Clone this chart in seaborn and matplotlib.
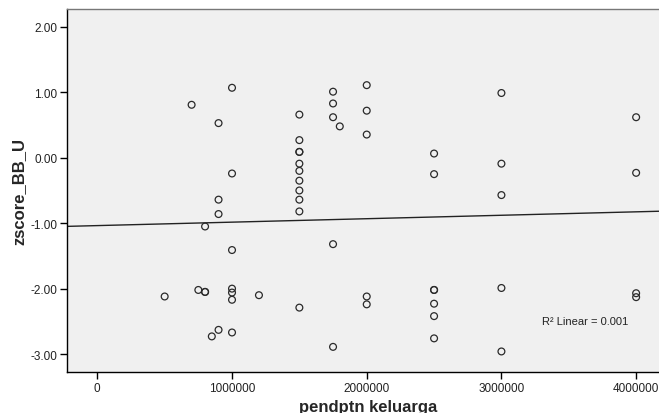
import matplotlib
matplotlib.use("Agg")
import matplotlib.pyplot as plt
import seaborn as sns
import numpy as np
import pandas as pd

income = [1000000, 700000, 900000, 1500000, 1750000, 1750000, 1750000, 1800000,
          2000000, 2000000, 2000000, 1500000, 1500000, 1500000, 1500000, 1500000,
          1500000, 1500000, 1500000, 1500000, 1000000, 900000, 900000, 800000,
          1000000, 1750000, 500000, 750000, 800000, 800000, 1000000, 1000000,
          1000000, 1200000, 1500000, 2000000, 2000000, 900000, 850000, 1000000,
          1750000, 2500000, 2500000, 3000000, 3000000, 3000000, 4000000, 4000000,
          2500000, 2500000, 2500000, 2500000, 2500000, 3000000, 3000000, 4000000,
          4000000]
zscore = [1.07, 0.81, 0.53, 0.66, 1.01, 0.83, 0.62, 0.48,
          1.11, 0.72, 0.355, 0.27, 0.09, 0.09, -0.09, -0.20,
          -0.35, -0.50, -0.64, -0.82, -0.24, -0.64, -0.86, -1.05,
          -1.41, -1.32, -2.12, -2.02, -2.05, -2.05, -2.00, -2.06,
          -2.17, -2.10, -2.29, -2.12, -2.24, -2.63, -2.73, -2.67,
          -2.89, 0.065, -0.25, 0.99, -0.09, -0.57, 0.62, -0.23,
          -2.02, -2.02, -2.23, -2.42, -2.76, -1.99, -2.96, -2.07,
          -2.13]

x_ticks = [0, 1000000, 2000000, 3000000, 4000000]
x_ticklabels = ["0", "1000000", "2000000", "3000000", "4000000"]
y_ticks = [-3, -2, -1, 0, 1, 2]
y_ticklabels = ["-3.00", "-2.00", "-1.00", "0.00", "1.00", "2.00"]
r2_label = "R\u00b2 Linear = 0.001"

df = pd.DataFrame({"pendptn keluarga": income, "zscore_BB_U": zscore})

sns.set_style("white")
plt.rcParams["font.family"] = ["Liberation Sans", "DejaVu Sans"]

fig = plt.figure(figsize=(6.59, 4.14), dpi=100)
ax = fig.add_axes([67 / 659, 41 / 414, (669 - 67) / 659, (373 - 10) / 414])
ax.set_facecolor("#f0f0f0")
ax.set_xlim(-225000, 4244000)
ax.set_ylim(-3.274, 2.274)

sns.regplot(data=df, x="pendptn keluarga", y="zscore_BB_U", scatter=False,
            ci=None, truncate=False, ax=ax,
            line_kws={"color": "#222222", "linewidth": 1.0})
sns.scatterplot(data=df, x="pendptn keluarga", y="zscore_BB_U", ax=ax,
                marker="o", s=24, facecolor="none", edgecolor="#2a2a2a",
                linewidth=0.9, zorder=3)

ax.set_xticks(x_ticks)
ax.set_xticklabels(x_ticklabels)
ax.set_yticks(y_ticks)
ax.set_yticklabels(y_ticklabels)
ax.tick_params(axis="both", direction="out", length=5, width=1, color="black",
               labelsize=8.5, labelcolor="#222222", bottom=True, left=True, pad=2)

for s in ["left", "bottom"]:
    ax.spines[s].set_color("black")
    ax.spines[s].set_linewidth(1.0)
ax.spines["top"].set_color("#777777")
ax.spines["top"].set_linewidth(1.0)
ax.spines["right"].set_visible(False)

ax.set_xlabel("pendptn keluarga", fontsize=12, fontweight="bold", labelpad=4)
ax.set_ylabel("zscore_BB_U", fontsize=12, fontweight="bold", labelpad=3)

ax.text(3300000, -2.49, r2_label, fontsize=8, va="center", ha="left", color="#222222")

fig.savefig("out.png", dpi=100)
